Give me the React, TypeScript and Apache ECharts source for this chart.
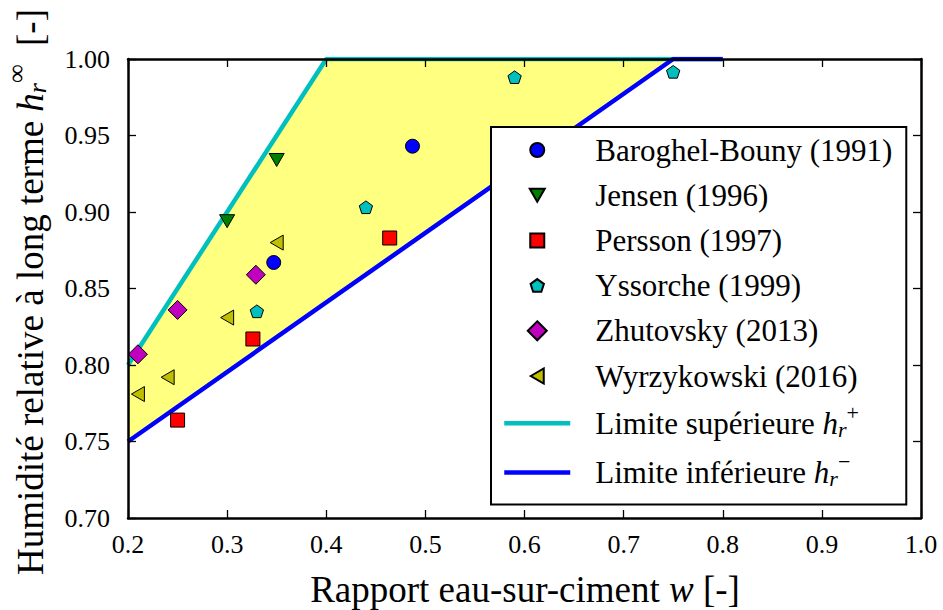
import React, { useEffect, useRef } from "react";
import * as echarts from "echarts";

// ---------- data ----------
const xTicks = [0.2, 0.3, 0.4, 0.5, 0.6, 0.7, 0.8, 0.9, 1.0];
const yTicks = [0.7, 0.75, 0.8, 0.85, 0.9, 0.95, 1.0];

const seriesNames = [
  "Baroghel-Bouny (1991)",
  "Jensen (1996)",
  "Persson (1997)",
  "Yssorche (1999)",
  "Zhutovsky (2013)",
  "Wyrzykowski (2016)",
];

const baroghelW = [0.347, 0.487];
const baroghelH = [0.867, 0.943];
const jensenW = [0.3, 0.35];
const jensenH = [0.894, 0.934];
const perssonW = [0.25, 0.326, 0.464];
const perssonH = [0.764, 0.817, 0.883];
const yssorcheW = [0.33, 0.44, 0.59, 0.75];
const yssorcheH = [0.835, 0.903, 0.988, 0.9915];
const zhutovskyW = [0.21, 0.25, 0.329];
const zhutovskyH = [0.807, 0.836, 0.859];
const wyrzykowskiW = [0.21, 0.24, 0.3, 0.35];
const wyrzykowskiH = [0.781, 0.792, 0.831, 0.88];

const limitNames = ["Limite supérieure", "Limite inférieure"];
const limitSigns = ["+", "\u2212"];
const upperW = [0.2, 0.4, 0.8];
const upperH = [0.8, 1.0, 1.0];
const lowerW = [0.2, 0.75, 0.8];
const lowerH = [0.75, 1.0, 1.0];

// ---------- styles ----------
const FONT = "Liberation Serif";
const frame = "M0,0 M20,20 ";
const symbols = [
  "path://" + frame + "M3,10 A7,7 0 1,1 17,10 A7,7 0 1,1 3,10 Z",
  "path://" + frame + "M2.5,3.5 L17.5,3.5 L10,16.5 Z",
  "path://" + frame + "M3,3 L17,3 L17,17 L3,17 Z",
  "path://" + frame + "M10,3.5 L16.66,8.34 L14.11,16.16 L5.89,16.16 L3.34,8.34 Z",
  "path://" + frame + "M10,0.5 L19.5,10 L10,19.5 L0.5,10 Z",
  "path://" + frame + "M3.5,10 L16.5,2.5 L16.5,17.5 Z",
];
const colors = ["#0000ff", "#007f00", "#ff0000", "#00bfbf", "#bf00bf", "#bfbf00"];
const lineColors = ["#00bfbf", "#0000ff"];
const LINE_W = 4.5;

const zip = (a: number[], b: number[]) => a.map((v, i) => [v, b[i]]);
const scatterData = [
  zip(baroghelW, baroghelH),
  zip(jensenW, jensenH),
  zip(perssonW, perssonH),
  zip(yssorcheW, yssorcheH),
  zip(zhutovskyW, zhutovskyH),
  zip(wyrzykowskiW, wyrzykowskiH),
];

export default function App() {
  const ref = useRef<HTMLDivElement>(null);
  useEffect(() => {
    if (!ref.current) return;
    const chart = echarts.init(ref.current, null, { renderer: "svg" });

    const upperPts = zip(upperW, upperH);
    const lowerPts = zip(lowerW, lowerH);
    const polyPts = [...upperPts, ...lowerPts.slice().reverse()];

    const axisCommon = {
      type: "value" as const,
      z: 10,
      axisLine: { show: true, onZero: false, lineStyle: { color: "#000", width: 2.5 } },
      axisTick: { show: true, inside: true, length: 8, lineStyle: { color: "#000", width: 1.3 } },
      splitLine: { show: false },
    };

    const labelStyle = { color: "#000", fontFamily: FONT, fontSize: 26 };

    const richMath = (size: number, subSize: number, down: number, up: number) => ({
      n: { fontFamily: FONT, fontSize: size, color: "#000" },
      i: { fontFamily: FONT, fontStyle: "italic", fontSize: size, color: "#000" },
      sub: { fontFamily: FONT, fontStyle: "italic", fontSize: subSize, color: "#000", padding: [down * 2, 0, 0, 0] },
      sup: { fontFamily: FONT, fontSize: subSize, color: "#000", padding: [0, 0, up * 2, 0] },
    });

    const legendRich = richMath(31, 22, 6, 11);
    Object.values(legendRich).forEach((s: any) => (s.lineHeight = 40));

    const legendData = [
      ...seriesNames.map((name) => ({ name })),
      ...limitNames.map((name) => ({
        name,
        itemStyle: { opacity: 0 },
        lineStyle: { width: LINE_W },
      })),
    ];

    const option: any = {
      animation: false,
      backgroundColor: "#fff",
      textStyle: { fontFamily: FONT, color: "#000" },
      grid: { left: 128, right: 22, top: 59, bottom: 92, outerBoundsMode: "none", containLabel: false },
      xAxis: [
        {
          ...axisCommon,
          position: "bottom",
          min: 0.2,
          max: 1.0,
          interval: 0.1,
          axisLabel: { ...labelStyle, margin: 13, formatter: (v: number) => v.toFixed(1) },
        },
        {
          ...axisCommon,
          position: "top",
          min: 0.2,
          max: 1.0,
          interval: 0.1,
          axisLabel: { show: false },
        },
      ],
      yAxis: [
        {
          ...axisCommon,
          position: "left",
          min: 0.7,
          max: 1.0,
          interval: 0.05,
          axisLabel: { ...labelStyle, margin: 18, padding: [6, 0, 0, 0], formatter: (v: number) => v.toFixed(2) },
        },
        {
          ...axisCommon,
          position: "right",
          min: 0.7,
          max: 1.0,
          interval: 0.05,
          axisLabel: { show: false },
        },
      ],
      legend: {
        orient: "vertical",
        left: 491,
        top: 127,
        z: 20,
        selectedMode: false,
        backgroundColor: "#fff",
        borderColor: "#000",
        borderWidth: 2,
        borderRadius: 0,
        padding: [3, 14, 10, 11],
        itemWidth: 66,
        itemHeight: 20,
        itemGap: 5.2,
        data: legendData,
        textStyle: {
          fontFamily: FONT,
          fontSize: 31,
          color: "#000",
          lineHeight: 40,
          padding: [0, 0, 0, 20],
          rich: legendRich,
        },
        formatter: (name: string) => {
          const k = limitNames.indexOf(name);
          return k < 0 ? `{n|${name}}` : `{n|${name} }{i|h}{sub|r}{sup|${limitSigns[k]}}`;
        },
      },
      graphic: [
        {
          type: "text",
          x: 525,
          y: 589,
          z: 20,
          style: {
            text: "Rapport eau-sur-ciment {i|w} [-]",
            fontFamily: FONT,
            fontSize: 37,
            fill: "#000",
            align: "center",
            verticalAlign: "middle",
            rich: richMath(37, 26, 7, 12),
          },
        },
        {
          type: "text",
          x: 30,
          y: 292,
          rotation: Math.PI / 2,
          z: 20,
          style: {
            text: "Humidité relative à long terme {i|h}{sub|r}{sup|\u221e}  [-]",
            fontFamily: FONT,
            fontSize: 37,
            fill: "#000",
            align: "center",
            verticalAlign: "middle",
            rich: richMath(37, 26, 7, 14),
          },
        },
      ],
      series: [
        {
          type: "custom",
          name: "zone",
          z: 1,
          silent: true,
          clip: true,
          data: [0],
          renderItem: (_params: any, api: any) => ({
            type: "polygon",
            shape: { points: polyPts.map((p) => api.coord(p)) },
            style: { fill: "#ffff80", stroke: "none" },
          }),
        },
        ...limitNames.map((name, k) => ({
          type: "line",
          name,
          z: 2,
          silent: true,
          symbol: "none",
          clip: true,
          data: k === 0 ? upperPts : lowerPts,
          lineStyle: { color: lineColors[k], width: LINE_W },
          itemStyle: { color: lineColors[k] },
        })),
        ...seriesNames.map((name, k) => ({
          type: "scatter",
          name,
          z: 3,
          silent: true,
          symbol: symbols[k],
          symbolSize: 20,
          data: scatterData[k],
          itemStyle: { color: colors[k], borderColor: "#000", borderWidth: 1, opacity: 1 },
        })),
      ],
    };
    chart.setOption(option);
    return () => chart.dispose();
  }, []);
  return (
    <div
      ref={ref}
      style={{ position: "fixed", left: 0, top: 0, width: 943, height: 610, background: "#fff" }}
    />
  );
}
